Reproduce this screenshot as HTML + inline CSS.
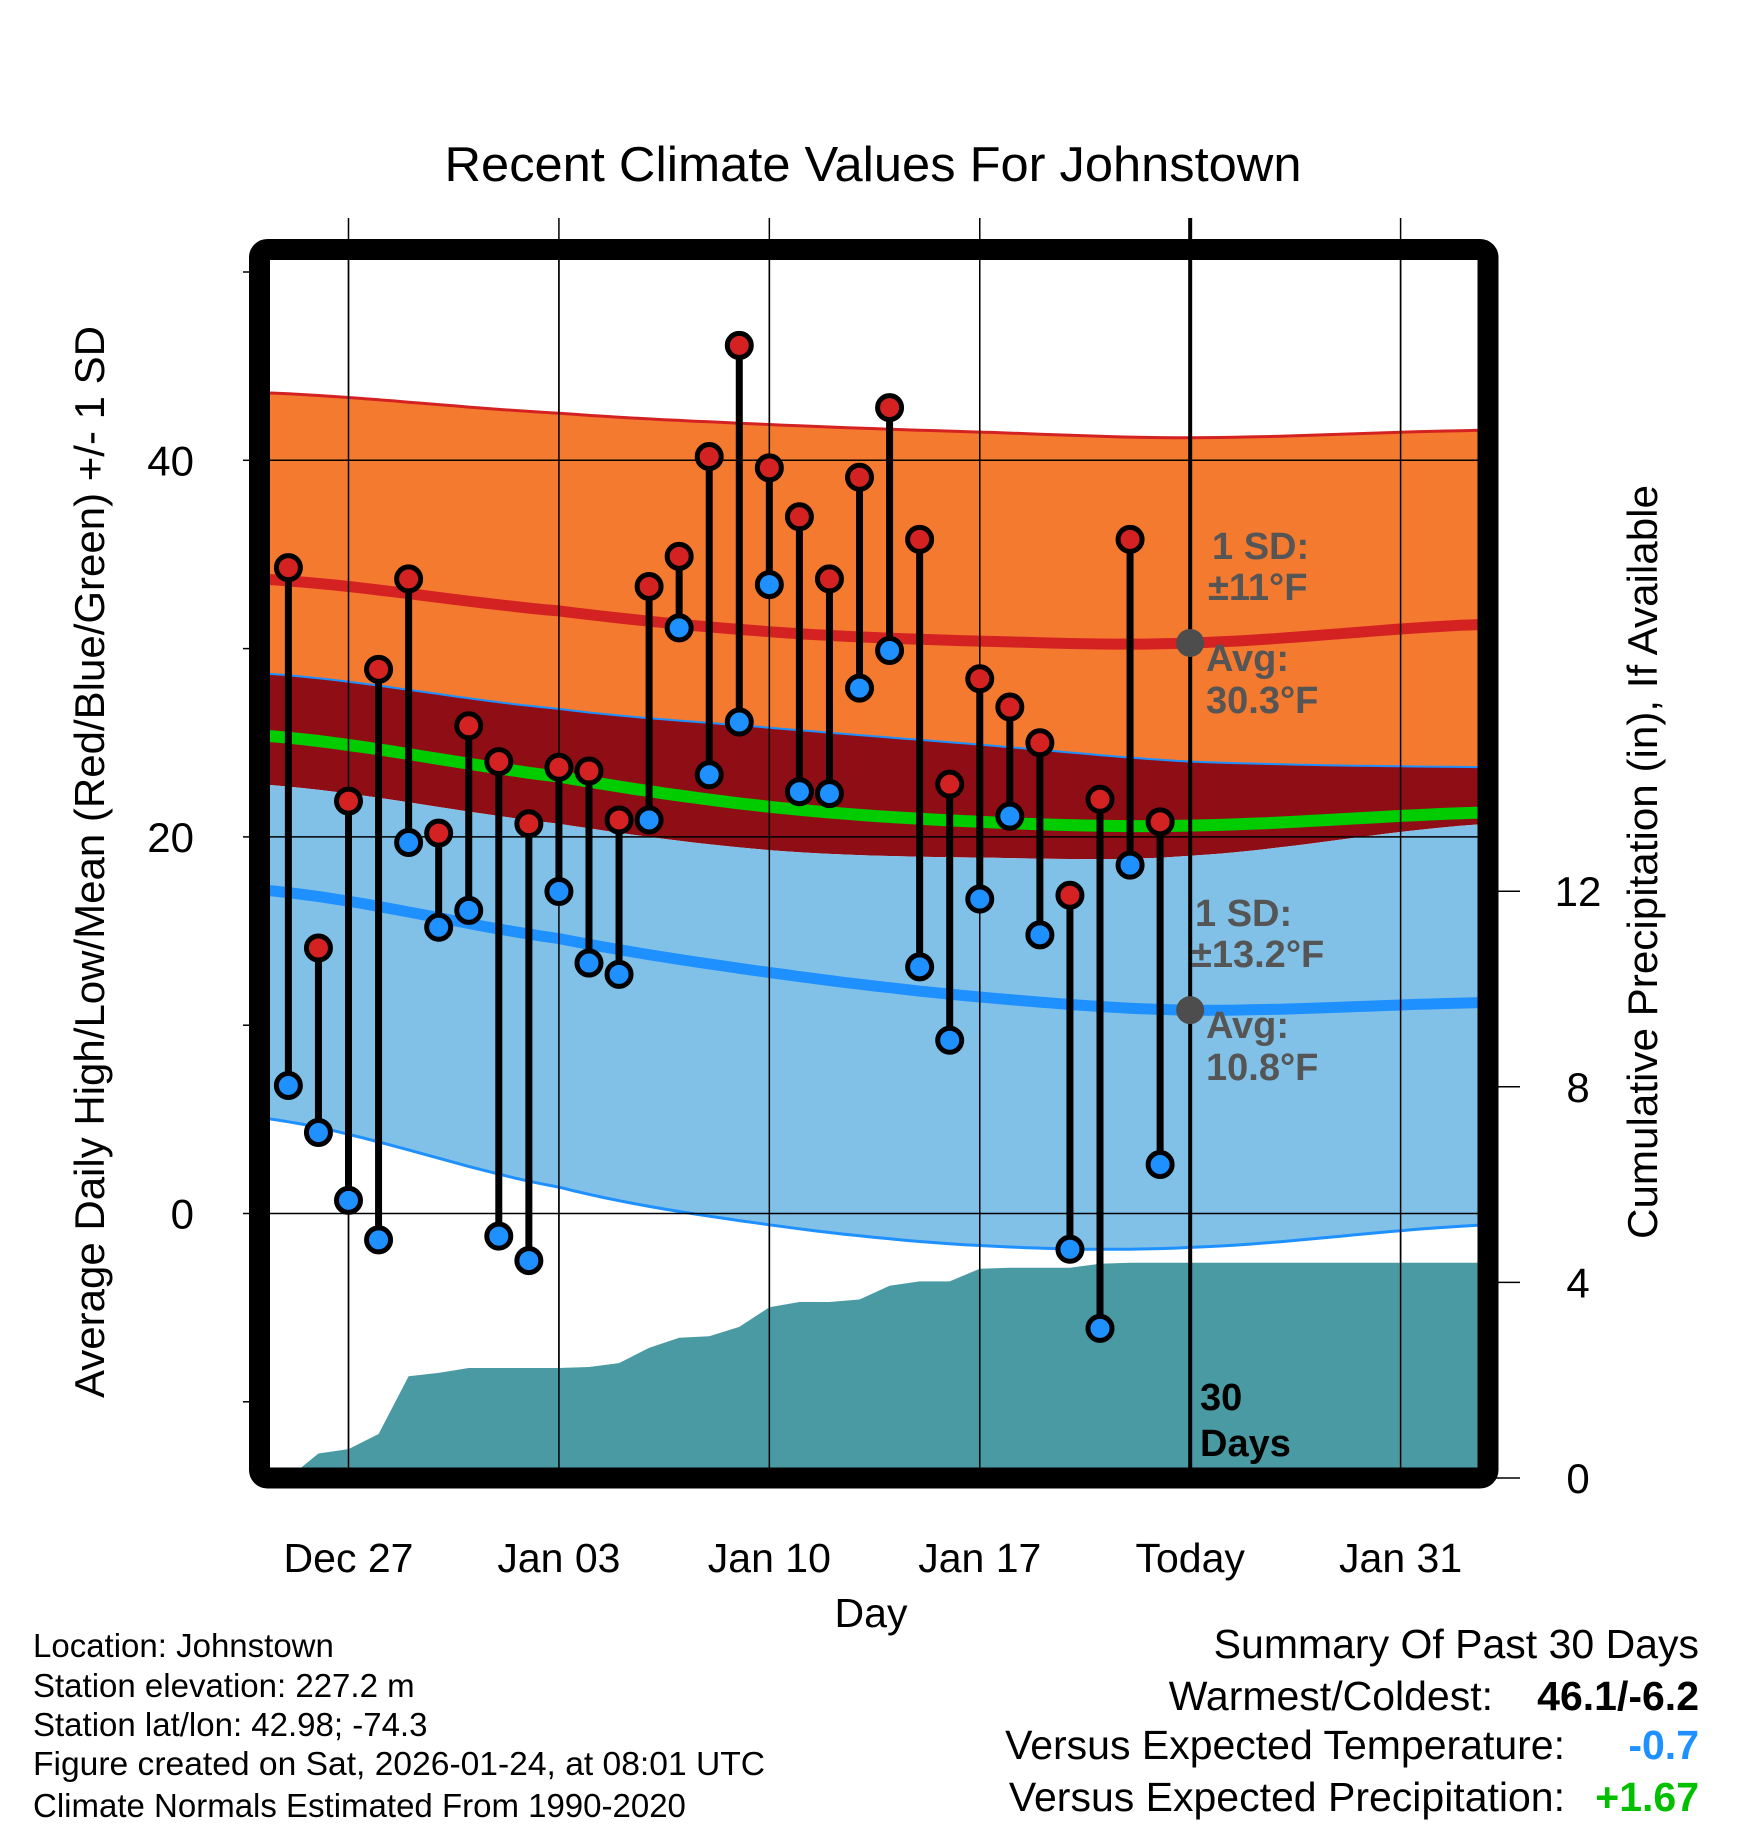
<!DOCTYPE html>
<html><head><meta charset="utf-8"><style>
html,body{margin:0;padding:0;background:#fff;}
svg text{font-family:"Liberation Sans",sans-serif;}
</style></head><body>
<svg id="chart" width="1748" height="1828" viewBox="0 0 1748 1828" xmlns="http://www.w3.org/2000/svg">
<defs><clipPath id="plotclip"><rect x="270" y="260" width="1208" height="1208"/></clipPath></defs>
<text x="873" y="181" font-size="49" text-anchor="middle" textLength="857" lengthAdjust="spacingAndGlyphs">Recent Climate Values For Johnstown</text>
<g id="gridBelow"></g>
<g id="plot" clip-path="url(#plotclip)"></g>
<g id="over"></g>
<rect x="259.5" y="249.5" width="1228.5" height="1228.5" rx="8" fill="none" stroke="#000" stroke-width="21"/>
<g id="axes"></g>
<text transform="translate(104,862) rotate(-90)" font-size="42" text-anchor="middle" textLength="1072" lengthAdjust="spacingAndGlyphs">Average Daily High/Low/Mean (Red/Blue/Green) +/- 1 SD</text>
<text transform="translate(1657,862) rotate(-90)" font-size="42" text-anchor="middle" textLength="754" lengthAdjust="spacingAndGlyphs">Cumulative Precipitation (in), If Available</text>
<text x="871" y="1627" font-size="41" text-anchor="middle">Day</text>
<g font-size="33">
<text x="33" y="1657">Location: Johnstown</text>
<text x="33" y="1697">Station elevation: 227.2 m</text>
<text x="33" y="1736">Station lat/lon: 42.98; -74.3</text>
<text x="33" y="1775" textLength="732" lengthAdjust="spacingAndGlyphs">Figure created on Sat, 2026-01-24, at 08:01 UTC</text>
<text x="33" y="1817">Climate Normals Estimated From 1990-2020</text>
</g>
<g font-size="41" text-anchor="end">
<text x="1699" y="1658">Summary Of Past 30 Days</text>
<text x="1493" y="1710">Warmest/Coldest:</text>
<text x="1699" y="1710" font-weight="bold">46.1/-6.2</text>
<text x="1565" y="1759">Versus Expected Temperature:</text>
<text x="1699" y="1759" font-weight="bold" fill="#1e90ff">-0.7</text>
<text x="1565" y="1811">Versus Expected Precipitation:</text>
<text x="1699" y="1811" font-weight="bold" fill="#00c000">+1.67</text>
</g>
</svg>
<script>
// ---- data ----
const dayLabels = ["Dec 27","Jan 03","Jan 10","Jan 17","Today","Jan 31"];
const labelDays = [0,7,14,21,28,35];
const obsDays = [-2,-1,0,1,2,3,4,5,6,7,8,9,10,11,12,13,14,15,16,17,18,19,20,21,22,23,24,25,26,27];
const highs = [34.3,14.1,21.9,28.9,33.7,20.2,25.9,24.0,20.7,23.7,23.5,20.9,33.3,34.9,40.2,46.1,39.6,37.0,33.7,39.1,42.8,35.8,22.8,28.4,26.9,25.0,16.9,22.0,35.8,20.8];
const lows = [6.8,4.3,0.7,-1.4,19.7,15.2,16.1,-1.2,-2.5,17.1,13.3,12.7,20.9,31.1,23.3,26.1,33.4,22.4,22.3,27.9,29.9,13.1,9.2,16.7,21.1,14.8,-1.9,-6.1,18.5,2.6];
const normDays = [-3,7,14,21,28,38];
const highPlusSD = [43.6,42.5,41.9,41.5,41.2,41.6];
const highMean = [33.7,32.0,30.9,30.4,30.3,31.3];
const highMinusSD = [28.7,26.8,25.8,24.9,24.0,23.7];
const meanTemp = [25.4,23.2,21.6,20.8,20.6,21.3];
const lowPlusSD = [22.8,20.7,19.3,18.9,19.0,20.7];
const lowMean = [17.2,14.6,12.8,11.5,10.8,11.2];
const lowMinusSD = [5.1,1.4,-0.6,-1.7,-1.8,-0.6];
const precipDays = [-2,-1,0,1,2,3,4,5,6,7,8,9,10,11,12,13,14,15,16,17,18,19,20,21,22,23,24,25,26,27,38];
const precipCum = [0,0.5,0.59,0.9,2.08,2.15,2.25,2.25,2.25,2.25,2.27,2.35,2.66,2.87,2.9,3.09,3.49,3.6,3.6,3.65,3.93,4.02,4.02,4.28,4.3,4.3,4.3,4.38,4.4,4.4,4.4];
const tempTicks = [-10,0,10,20,30,40,50];
const tempLabels = [0,20,40];
const precipTicks = [0,4,8,12];

// ---- scales ----
const X = d => 348.5 + d*30.06;
const YT = t => 1213.5 - t*18.83;
const YP = p => 1478 - p*48.9;
const NS = "http://www.w3.org/2000/svg";
function mk(tag, attrs, parent){const e=document.createElementNS(NS,tag);for(const k in attrs)e.setAttribute(k,attrs[k]);parent.appendChild(e);return e;}
function interp(xs, ys, x){
  let i=0; while(i<xs.length-2 && x>xs[i+1]) i++;
  const p0=ys[Math.max(i-1,0)],p1=ys[i],p2=ys[i+1],p3=ys[Math.min(i+2,ys.length-1)];
  const t=(x-xs[i])/(xs[i+1]-xs[i]);
  return 0.5*((2*p1)+(-p0+p2)*t+(2*p0-5*p1+4*p2-p3)*t*t+(-p0+3*p1-3*p2+p3)*t*t*t);
}
function curvePts(arr){const pts=[];for(let d=-3;d<=38.01;d+=0.5)pts.push([X(d),YT(interp(normDays,arr,d))]);return pts;}
const ps = pts => pts.map(p=>p[0].toFixed(1)+","+p[1].toFixed(1)).join(" ");
function band(a,b,fill,name){
  const A=curvePts(a),B=curvePts(b).reverse();
  const el=mk("polygon",{points:ps(A.concat(B)),fill:fill},plot);
  
  
}
function line(a,color,w,name){
  const el=mk("polyline",{points:ps(curvePts(a)),fill:"none",stroke:color,"stroke-width":w},plot);
  
  
}
const plot=document.getElementById("plot"), over=document.getElementById("over"), axes=document.getElementById("axes"), gridBelow=document.getElementById("gridBelow");

band(highPlusSD,highMinusSD,"#f47a2f","high-sd-band");
band(highMinusSD,lowPlusSD,"#8f0e15","overlap-band");
band(lowPlusSD,lowMinusSD,"#82c1e7","low-sd-band");
line(highPlusSD,"#d42222",3,"high-plus-sd-line");
line(highMinusSD,"#1e90ff",2,"high-minus-sd-line");
line(lowMinusSD,"#1e90ff",3,"low-minus-sd-line");
line(highMean,"#d42222",11,"high-mean-line");
line(lowMean,"#1e90ff",11,"low-mean-line");
line(meanTemp,"#00cc00",12,"mean-temp-line");

// precip area
{
  const pts=precipDays.map((d,i)=>[X(d),YP(precipCum[i])]);
  pts.push([X(38),YP(0)]);pts.push([X(-2),YP(0)]);
  const el=mk("polygon",{points:ps(pts),fill:"#4a9aa3"},plot);
  
  
}
// grid lines
labelDays.forEach((d,i)=>{
  const el=mk("line",{x1:X(d),x2:X(d),y1:218,y2:1478,stroke:"#000","stroke-width":i===4?4:1.5},i===4?over:gridBelow);
  
  
  if(i!==4){
    const g2=mk("line",{x1:X(d),x2:X(d),y1:260,y2:1468,stroke:"#000","stroke-width":1.5},over);
    
    
  }
  const t=mk("text",{x:X(d),y:1572,"font-size":41,"text-anchor":"middle"},axes);
  t.textContent=dayLabels[i];
  
  
});
tempLabels.forEach(v=>{
  const el=mk("line",{x1:270,x2:1478,y1:YT(v),y2:YT(v),stroke:"#000","stroke-width":1.5},over);
  
  
  const t=mk("text",{x:194,y:YT(v)+15,"font-size":42,"text-anchor":"end"},axes);
  t.textContent=v;
  
  
});
tempTicks.forEach(v=>{
  const el=mk("line",{x1:243,x2:252,y1:YT(v),y2:YT(v),stroke:"#000","stroke-width":1.5},axes);
  
  
});
precipTicks.forEach(v=>{
  const el=mk("line",{x1:1496,x2:1520,y1:YP(v),y2:YP(v),stroke:"#000","stroke-width":1.5},axes);
  
  
  const t=mk("text",{x:1578,y:YP(v)+15,"font-size":42,"text-anchor":"middle"},axes);
  t.textContent=v;
  
  
});
// observations
obsDays.forEach((d,i)=>{
  const s=mk("line",{x1:X(d),x2:X(d),y1:YT(highs[i]),y2:YT(lows[i]),stroke:"#000","stroke-width":7},over);
  
  
  const h=mk("circle",{cx:X(d),cy:YT(highs[i]),r:12,fill:"#d42222",stroke:"#000","stroke-width":5},over);
  
  
  const l=mk("circle",{cx:X(d),cy:YT(lows[i]),r:12,fill:"#1e90ff",stroke:"#000","stroke-width":5},over);
  
  
});
// today markers
[highMean,lowMean].forEach(a=>{
  const c=mk("circle",{cx:X(28),cy:YT(interp(normDays,a,28)),r:14,fill:"#4d4d4d"},over);
  
  
});
const notes=[["1 SD:",1212,559,"#555"],["±11°F",1208,600,"#555"],["Avg:",1206,671,"#555"],["30.3°F",1206,713,"#555"],
["1 SD:",1195,926,"#555"],["±13.2°F",1191,967,"#555"],["Avg:",1206,1038,"#555"],["10.8°F",1206,1080,"#555"],
["30",1200,1410,"#000"],["Days",1200,1456,"#000"]];
notes.forEach(n=>{
  const t=mk("text",{x:n[1],y:n[2],"font-size":38,"font-weight":"bold",fill:n[3]},over);
  t.textContent=n[0];
  
  
});
</script>
</body></html>
